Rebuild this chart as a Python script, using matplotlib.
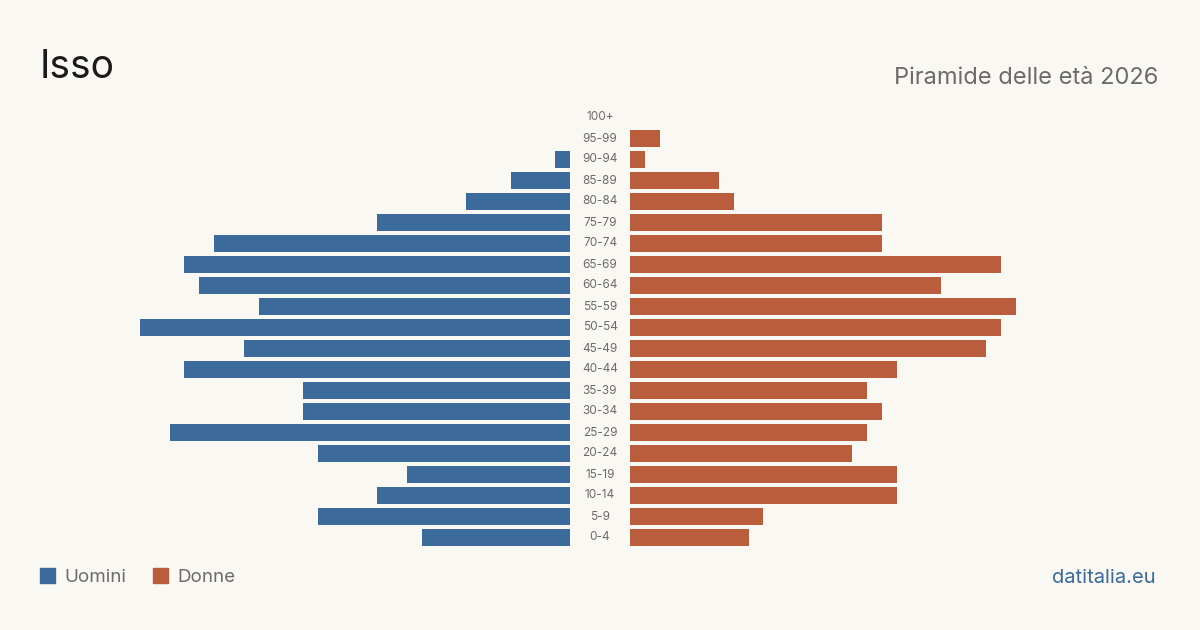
import numpy as np
import matplotlib.pyplot as plt
from matplotlib.transforms import blended_transform_factory

plt.rcParams['font.family'] = ['Inter', 'DejaVu Sans']

# age groups from youngest to oldest
age_groups = ['0-4', '5-9', '10-14', '15-19', '20-24', '25-29', '30-34', '35-39',
              '40-44', '45-49', '50-54', '55-59', '60-64', '65-69', '70-74',
              '75-79', '80-84', '85-89', '90-94', '95-99', '100+']
men = [10, 17, 13, 11, 17, 27, 18, 18, 26, 22, 29, 21, 25, 26, 24, 13, 7, 4, 1, 0, 0]
women = [8, 9, 18, 18, 15, 16, 17, 16, 18, 24, 25, 26, 21, 25, 17, 17, 7, 6, 1, 2, 0]

bg = '#f9f8f3'
blue = '#3b6a9b'
orange = '#b95d3d'

W, H = 1200, 630
fig = plt.figure(figsize=(12, 6.3), dpi=100, facecolor=bg)

px = 14.83  # pixels per person
bottom = (H - 548) / H
height = 441 / H
ax_l = fig.add_axes([40 / W, bottom, 530 / W, height])
ax_r = fig.add_axes([630 / W, bottom, 530 / W, height])

y = np.arange(len(age_groups))
ax_l.barh(y, men, height=0.8, color=blue)
ax_r.barh(y, women, height=0.8, color=orange)
ax_l.set_xlim(530 / px, 0)
ax_r.set_xlim(0, 530 / px)
for ax in (ax_l, ax_r):
    ax.set_ylim(-0.5, len(age_groups) - 0.5)
    ax.axis('off')
    ax.set_facecolor(bg)

tr = blended_transform_factory(fig.transFigure, ax_r.transData)
for i, lab in enumerate(age_groups):
    fig.text(0.5, i, lab, transform=tr, ha='center', va='center',
             fontsize=8.5, color='#6b6b6b')

fig.text(40 / W, 1 - 67 / H, 'Isso', fontsize=28, color='#1a1a1a',
         ha='left', va='center')
fig.text(1158 / W, 1 - 78 / H, 'Piramide delle età 2026', fontsize=17,
         color='#6b6b6b', ha='right', va='center')

# legend
fig.patches.append(plt.Rectangle((40 / W, 1 - 583 / H), 15 / W, 15 / H,
                                 transform=fig.transFigure, color=blue))
fig.text(64 / W, 1 - 578 / H, 'Uomini', fontsize=13.5, color='#6b6b6b',
         ha='left', va='center')
fig.patches.append(plt.Rectangle((153 / W, 1 - 583 / H), 15 / W, 15 / H,
                                 transform=fig.transFigure, color=orange))
fig.text(177 / W, 1 - 578 / H, 'Donne', fontsize=13.5, color='#6b6b6b',
         ha='left', va='center')
fig.text(1156 / W, 1 - 578 / H, 'datitalia.eu', fontsize=14.5, color=blue,
         ha='right', va='center')

fig.savefig('out.png', dpi=100, facecolor=bg)
